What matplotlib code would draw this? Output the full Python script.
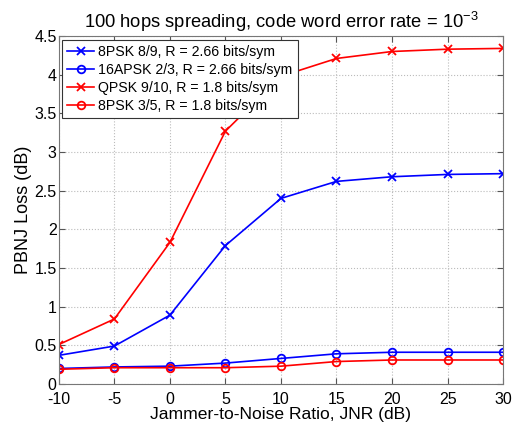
import matplotlib
matplotlib.use("Agg")
import matplotlib.pyplot as plt

plt.rcParams['font.family'] = ['Liberation Sans', 'DejaVu Sans']
plt.rcParams['mathtext.fontset'] = 'custom'
plt.rcParams['mathtext.rm'] = 'Liberation Sans'
plt.rcParams['mathtext.it'] = 'Liberation Sans:italic'
plt.rcParams['axes.unicode_minus'] = False

jnr = [-10, -5, 0, 5, 10, 15, 20, 25, 30]
psk8_89 = [0.37, 0.49, 0.89, 1.79, 2.40, 2.62, 2.68, 2.71, 2.72]
apsk16_23 = [0.20, 0.22, 0.23, 0.27, 0.33, 0.39, 0.41, 0.41, 0.41]
qpsk_910 = [0.51, 0.84, 1.83, 3.27, 3.98, 4.21, 4.30, 4.33, 4.34]
psk8_35 = [0.19, 0.21, 0.21, 0.21, 0.23, 0.29, 0.31, 0.31, 0.31]

labels = ['8PSK 8/9, R = 2.66 bits/sym',
          '16APSK 2/3, R = 2.66 bits/sym',
          'QPSK 9/10, R = 1.8 bits/sym',
          '8PSK 3/5, R = 1.8 bits/sym']
xticks = [-10, -5, 0, 5, 10, 15, 20, 25, 30]
yticks = [0, 0.5, 1, 1.5, 2, 2.5, 3, 3.5, 4, 4.5]
ytick_labels = ['0', '0.5', '1', '1.5', '2', '2.5', '3', '3.5', '4', '4.5']

fig = plt.figure(figsize=(5.16, 4.29), dpi=100)
ax = fig.add_axes([0.114, 0.105, 0.861, 0.811])

blue = '#0000ff'
red = '#ff0000'
ax.plot(jnr, psk8_89, color=blue, lw=1.2, marker='x', ms=6, mew=1.3, label=labels[0])
ax.plot(jnr, apsk16_23, color=blue, lw=1.2, marker='o', ms=5.5, mew=1.3, mfc='none', label=labels[1])
ax.plot(jnr, qpsk_910, color=red, lw=1.2, marker='x', ms=6, mew=1.3, label=labels[2])
ax.plot(jnr, psk8_35, color=red, lw=1.2, marker='o', ms=5.5, mew=1.3, mfc='none', label=labels[3])

ax.set_xlim(-10, 30)
ax.set_ylim(0, 4.5)
ax.set_xticks(xticks)
ax.set_yticks(yticks)
ax.set_yticklabels(ytick_labels)
ax.tick_params(direction='in', top=True, right=True, labelsize=11.5, length=4,
               color='#555555')
ax.tick_params(axis='y', pad=1.5)
ax.tick_params(axis='x', pad=6)
ax.grid(True, linestyle=':', color='#bbbbbb', lw=0.8)
for s in ax.spines.values():
    s.set_color('#777777')

ax.set_xlabel('Jammer-to-Noise Ratio, JNR (dB)', fontsize=12.6, labelpad=0)
ax.set_ylabel('PBNJ Loss (dB)', fontsize=13, labelpad=2)
ax.set_title('100 hops spreading, code word error rate = $10^{-3}$', fontsize=13.2, pad=6)

leg = ax.legend(loc='upper left', fontsize=10.2, fancybox=False, framealpha=1,
                edgecolor='#333333', borderpad=0.35, labelspacing=0.3,
                handlelength=1.9, handletextpad=0.3, borderaxespad=0.25)
leg.get_frame().set_linewidth(0.8)

fig.savefig('out.png', dpi=100)
